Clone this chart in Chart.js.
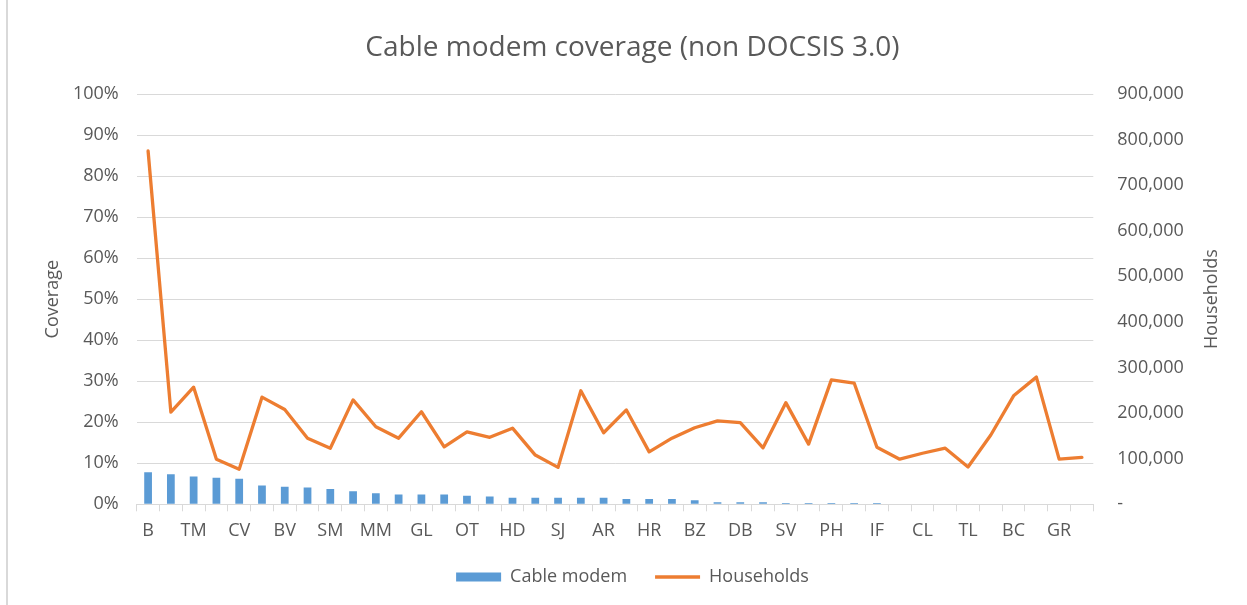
<!DOCTYPE html>
<html>
<head>
<meta charset="utf-8">
<script src="https://cdn.jsdelivr.net/npm/chart.js@4"></script>
<style>
  body { margin: 0; background: #fff; }
  #wrap { width: 1247px; height: 605px; }
</style>
</head>
<body>
<div id="wrap"><canvas id="coverageChart" width="1247" height="605"></canvas></div>
<script>
// Catégories (une étiquette sur deux est masquée dans l'original)
const categories = ['B','','TM','','CV','','BV','','SM','','MM','','GL','','OT','','HD','','SJ','','AR','',
                    'HR','','BZ','','DB','','SV','','PH','','IF','','CL','','TL','','BC','','GR',''];

// Couverture modem câble (fraction, axe gauche)
const coverage = [0.078,0.073,0.068,0.065,0.062,0.046,0.043,0.041,0.037,0.032,0.027,0.024,0.024,0.024,
                  0.021,0.019,0.016,0.016,0.016,0.016,0.016,0.013,0.013,0.013,0.010,0.005,0.005,0.005,
                  0.003,0.003,0.003,0.003,0.003,0,0,0,0,0,0,0,0,0];

// Nombre de ménages (axe droit)
const households = [775000,202000,257000,99000,77000,235000,208000,145000,123000,229000,
                    170000,145000,203000,126000,159000,147000,167000,108000,81000,249000,
                    157000,207000,115000,145000,168000,183000,179000,124000,223000,132000,
                    273000,266000,125000,99000,112000,123000,82000,152000,238000,279000,
                    99000,103000];

const chartTitle = 'Cable modem coverage (non DOCSIS 3.0)';
const leftAxisTitle = 'Coverage';
const rightAxisTitle = 'Households';
const seriesNames = ['Cable modem', 'Households'];

const textColor = '#595959';
const gridColor = '#d9d9d9';
const fontFamily = "'Open Sans', sans-serif";

Chart.defaults.font.family = fontFamily;
Chart.defaults.color = textColor;

// Titre de l'axe droit, écrit de bas en haut comme dans Excel
const rightTitlePlugin = {
    id: 'rightTitle',
    afterDraw(chart) {
        const s = chart.scales.y1;
        const c = chart.ctx;
        c.save();
        c.translate(chart.width - 35, (s.top + s.bottom) / 2);
        c.rotate(-Math.PI / 2);
        c.textAlign = 'center';
        c.textBaseline = 'middle';
        c.font = '18px ' + fontFamily;
        c.fillStyle = textColor;
        c.fillText(rightAxisTitle, 0, 0);
        c.restore();
    }
};

// Bordure gauche de la zone de graphique
const framePlugin = {
    id: 'frame',
    beforeDraw(chart) {
        const c = chart.ctx;
        c.save();
        c.fillStyle = '#fff';
        c.fillRect(0, 0, chart.width, chart.height);
        c.strokeStyle = gridColor;
        c.lineWidth = 2;
        c.beginPath();
        c.moveTo(7, 0);
        c.lineTo(7, chart.height);
        c.stroke();
        c.restore();
    }
};

const ctx = document.getElementById('coverageChart').getContext('2d');
new Chart(ctx, {
    type: 'bar',
    data: {
        labels: categories,
        datasets: [{
            type: 'bar',
            label: seriesNames[0],
            data: coverage,
            yAxisID: 'y',
            backgroundColor: '#5b9bd5',
            borderWidth: 0,
            barPercentage: 0.34,
            categoryPercentage: 1,
            pointStyle: 'rect',
            order: 1
        }, {
            type: 'line',
            label: seriesNames[1],
            data: households,
            yAxisID: 'y1',
            borderColor: '#ed7d31',
            backgroundColor: '#ed7d31',
            borderWidth: 3.3,
            borderJoinStyle: 'round',
            borderCapStyle: 'round',
            pointRadius: 0,
            pointHoverRadius: 0,
            pointStyle: 'line',
            tension: 0,
            fill: false,
            order: 0
        }]
    },
    options: {
        responsive: false,
        animation: false,
        layout: { padding: { left: 42, right: 24, top: 0, bottom: 9 } },
        plugins: {
            title: {
                display: true,
                text: chartTitle,
                color: textColor,
                font: { size: 28, weight: 'normal' },
                padding: { top: 31, bottom: 29.4 }
            },
            legend: {
                position: 'bottom',
                labels: {
                    usePointStyle: true,
                    pointStyleWidth: 45,
                    boxHeight: 9,
                    padding: 28,
                    color: textColor,
                    font: { size: 18 },
                    sort: (a, b) => a.datasetIndex - b.datasetIndex
                }
            },
            tooltip: { enabled: false }
        },
        scales: {
            x: {
                grid: {
                    display: true,
                    drawOnChartArea: false,
                    tickLength: 7,
                    color: gridColor
                },
                border: { display: true, color: gridColor },
                ticks: {
                    autoSkip: false,
                    maxRotation: 0,
                    padding: 9,
                    font: { size: 18 }
                },
                afterFit(scale) { scale.height = 35.7; }
            },
            y: {
                position: 'left',
                min: 0,
                max: 1,
                ticks: {
                    stepSize: 0.1,
                    padding: 18,
                    font: { size: 18 },
                    callback: v => Math.round(v * 100) + '%'
                },
                grid: { color: gridColor, drawTicks: false },
                border: { display: false },
                title: {
                    display: true,
                    text: leftAxisTitle,
                    font: { size: 18 },
                    padding: { top: 0, bottom: 0 }
                },
                afterFit(scale) { scale.width = 94.7; }
            },
            y1: {
                position: 'right',
                min: 0,
                max: 900000,
                ticks: {
                    stepSize: 100000,
                    padding: 24,
                    font: { size: 18 },
                    callback: v => v === 0 ? '-' : v.toLocaleString('en-US')
                },
                grid: { display: false, drawTicks: false },
                border: { display: false },
                afterFit(scale) { scale.width = 129.7; }
            }
        }
    },
    plugins: [framePlugin, rightTitlePlugin]
});
</script>
</body>
</html>
